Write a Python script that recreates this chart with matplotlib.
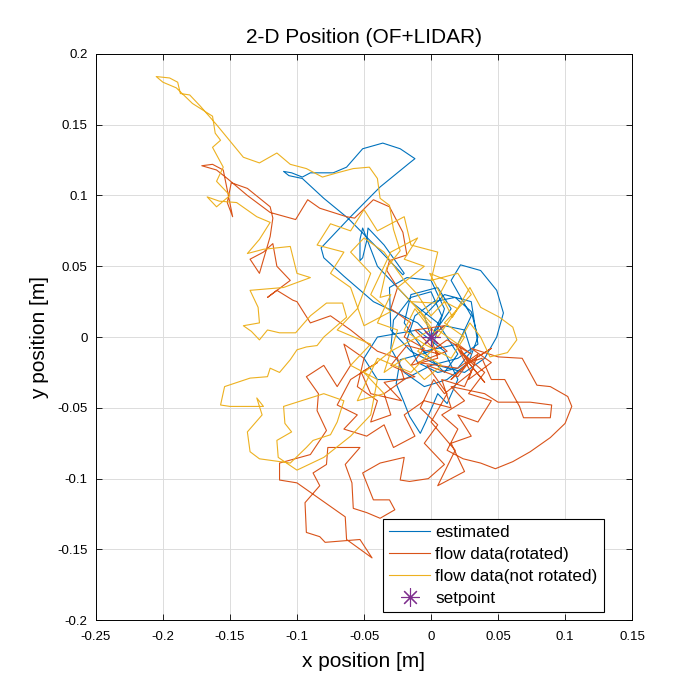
import matplotlib
matplotlib.use('Agg')
import matplotlib.pyplot as plt

# estimated trajectory (x, y) in metres
est_x = [0.000, 0.015, 0.005, -0.015, -0.020, -0.005, 0.020, 0.030, 0.015, 0.022,
         0.037, 0.049, 0.054, 0.049, 0.040, 0.025, 0.005, -0.015, -0.030, -0.031,
         -0.018, 0.000, 0.010, 0.000, -0.023, -0.026, -0.021, -0.016, -0.008, -0.004,
         0.005, 0.012, 0.020, 0.010, -0.010, -0.040, -0.050, -0.040, -0.020, 0.000,
         0.020, 0.035, 0.030, 0.010, -0.005, 0.000, -0.010, -0.043, -0.065, -0.080,
         -0.082, -0.060, -0.038, -0.016, -0.012, -0.023, -0.036, -0.051, -0.063, -0.073,
         -0.090, -0.096, -0.104, -0.110, -0.106, -0.096, -0.080, -0.062, -0.038, -0.021,
         -0.020, -0.035, -0.047, -0.048, -0.051, -0.053, -0.053, -0.051, -0.040, -0.015,
         0.005, 0.020, 0.010, -0.008, 0.000, 0.010, 0.025, 0.030, 0.020, 0.005,
         -0.010, -0.018, -0.012, 0.002, 0.018, 0.030, 0.035, 0.028, 0.012, -0.005,
         -0.020, -0.030, -0.028, -0.015, 0.000, 0.008, 0.000]
est_y = [0.000, 0.020, 0.035, 0.030, 0.010, -0.010, -0.005, 0.015, 0.040, 0.051,
         0.047, 0.033, 0.017, 0.000, -0.015, -0.025, -0.020, -0.010, 0.005, 0.035,
         0.042, 0.040, 0.020, -0.010, -0.016, -0.033, -0.044, -0.056, -0.068, -0.060,
         -0.040, -0.047, -0.030, -0.010, 0.005, 0.000, -0.015, -0.030, -0.030, -0.020,
         -0.015, -0.005, 0.025, 0.030, 0.015, 0.000, 0.010, 0.025, 0.043, 0.056,
         0.063, 0.085, 0.106, 0.123, 0.126, 0.133, 0.137, 0.133, 0.120, 0.116,
         0.116, 0.113, 0.116, 0.117, 0.114, 0.112, 0.098, 0.084, 0.061, 0.044,
         0.045, 0.065, 0.077, 0.068, 0.056, 0.054, 0.069, 0.077, 0.050, 0.025,
         0.010, -0.012, -0.025, -0.008, 0.000, 0.008, 0.005, -0.010, -0.022, -0.025,
         -0.018, -0.002, 0.015, 0.025, 0.028, 0.018, 0.000, -0.018, -0.030, -0.035,
         -0.025, -0.008, 0.012, 0.028, 0.032, 0.015, 0.000]

# flow data, rotated
rot_x = [0.000, 0.012, -0.010, 0.020, 0.035, 0.028, 0.045, 0.030, 0.050, 0.068,
         0.079, 0.089, 0.102, 0.105, 0.100, 0.089, 0.074, 0.061, 0.048, 0.037,
         0.024, 0.012, 0.020, 0.008, 0.025, 0.015, 0.040, 0.050, 0.074, 0.090,
         0.089, 0.069, 0.066, 0.055, 0.045, 0.038, 0.028, 0.018, 0.030, 0.010,
         0.002, -0.008, 0.005, -0.005, 0.010, -0.002, -0.016, -0.023, -0.020, -0.038,
         -0.051, -0.043, -0.031, -0.027, -0.038, -0.048, -0.058, -0.059, -0.064, -0.053,
         -0.077, -0.078, -0.088, -0.083, -0.094, -0.093, -0.083, -0.079, -0.053, -0.044,
         -0.063, -0.064, -0.100, -0.113, -0.113, -0.090, -0.078, -0.085, -0.084, -0.093,
         -0.080, -0.070, -0.060, -0.065, -0.050, -0.055, -0.040, -0.045, -0.030, -0.035,
         -0.020, -0.025, -0.040, -0.060, -0.075, -0.090, -0.100, -0.103, -0.115, -0.122,
         -0.105, -0.115, -0.118, -0.125, -0.135, -0.128, -0.120, -0.118, -0.120, -0.137,
         -0.149, -0.152, -0.148, -0.155, -0.163, -0.171, -0.160, -0.152, -0.137, -0.120,
         -0.101, -0.092, -0.083, -0.063, -0.057, -0.043, -0.031, -0.021, -0.018, -0.031,
         -0.033, -0.025, -0.030, -0.015, -0.020, -0.005, -0.015, 0.005, 0.000, 0.010,
         -0.012, 0.006, -0.018, -0.030, -0.012, -0.035, -0.022, -0.045, -0.052, -0.040,
         -0.060, -0.070, -0.055, -0.065, -0.048, -0.035, -0.028, -0.012, -0.020, -0.005,
         0.015, 0.008, 0.025, 0.032, 0.022, 0.040, 0.028, 0.045, 0.035, 0.020,
         0.030, 0.015, 0.025, 0.005, 0.018, 0.000, 0.012, -0.003, 0.020, 0.028,
         0.045, 0.028, 0.040, 0.028, 0.015, 0.028, 0.020, 0.030, 0.012, 0.000]
rot_y = [0.000, -0.010, -0.018, -0.022, -0.012, -0.030, -0.018, -0.008, -0.014, -0.015,
         -0.034, -0.035, -0.042, -0.049, -0.061, -0.071, -0.081, -0.088, -0.093, -0.089,
         -0.086, -0.080, -0.065, -0.055, -0.045, -0.035, -0.040, -0.046, -0.046, -0.048,
         -0.057, -0.057, -0.049, -0.030, -0.030, -0.015, -0.018, -0.005, -0.025, -0.040,
         -0.030, -0.050, -0.062, -0.075, -0.090, -0.100, -0.102, -0.101, -0.085, -0.089,
         -0.096, -0.115, -0.115, -0.122, -0.128, -0.124, -0.121, -0.103, -0.090, -0.078,
         -0.078, -0.090, -0.096, -0.105, -0.117, -0.138, -0.141, -0.145, -0.143, -0.156,
         -0.143, -0.127, -0.103, -0.101, -0.089, -0.083, -0.066, -0.052, -0.040, -0.028,
         -0.020, -0.035, -0.020, -0.005, -0.015, -0.035, -0.045, -0.060, -0.055, -0.040,
         -0.030, -0.015, -0.010, 0.005, 0.015, 0.010, 0.025, 0.026, 0.033, 0.028,
         0.040, 0.050, 0.066, 0.060, 0.055, 0.045, 0.071, 0.084, 0.092, 0.105,
         0.109, 0.095, 0.085, 0.118, 0.122, 0.121, 0.118, 0.112, 0.100, 0.088,
         0.083, 0.097, 0.091, 0.085, 0.084, 0.097, 0.092, 0.074, 0.058, 0.054,
         0.047, 0.035, 0.020, 0.010, 0.000, -0.008, -0.020, -0.015, 0.000, 0.008,
         0.005, -0.012, -0.006, -0.020, -0.028, -0.032, -0.045, -0.040, -0.025, -0.018,
         -0.030, -0.048, -0.055, -0.065, -0.070, -0.062, -0.078, -0.070, -0.055, -0.045,
         -0.050, -0.030, -0.035, -0.020, -0.010, -0.025, -0.040, -0.045, -0.060, -0.055,
         -0.070, -0.075, -0.095, -0.105, -0.080, -0.060, -0.040, -0.020, -0.028, -0.018,
         -0.008, -0.018, -0.032, -0.018, -0.030, -0.018, -0.005, -0.012, -0.002, -0.010]

# flow data, not rotated
raw_x = [0.000, -0.015, 0.003, 0.012, -0.001, 0.016, 0.029, 0.037, 0.051, 0.061,
         0.064, 0.057, 0.044, 0.037, 0.029, 0.020, 0.005, -0.010, 0.008, -0.005,
         -0.020, -0.035, -0.025, -0.040, -0.030, -0.038, -0.033, -0.023, -0.028, -0.031,
         -0.038, -0.040, -0.046, -0.058, -0.070, -0.081, -0.093, -0.105, -0.115, -0.128,
         -0.140, -0.160, -0.172, -0.180, -0.187, -0.189, -0.195, -0.205, -0.200, -0.190,
         -0.178, -0.163, -0.161, -0.157, -0.163, -0.155, -0.160, -0.150, -0.160, -0.167,
         -0.158, -0.145, -0.130, -0.120, -0.128, -0.137, -0.125, -0.105, -0.100, -0.090,
         -0.110, -0.135, -0.129, -0.128, -0.140, -0.134, -0.128, -0.122, -0.113, -0.101,
         -0.090, -0.078, -0.066, -0.063, -0.080, -0.085, -0.093, -0.100, -0.105, -0.113,
         -0.120, -0.122, -0.135, -0.154, -0.157, -0.150, -0.125, -0.130, -0.126, -0.137,
         -0.135, -0.128, -0.105, -0.093, -0.088, -0.075, -0.070, -0.065, -0.080, -0.110,
         -0.109, -0.104, -0.115, -0.114, -0.100, -0.080, -0.060, -0.045, -0.040, -0.060,
         -0.045, -0.070, -0.055, -0.045, -0.060, -0.050, -0.035, -0.020, -0.010, 0.000,
         0.010, 0.020, 0.005, -0.010, -0.025, -0.005, -0.020, -0.010, -0.030, -0.045,
         -0.030, -0.050, -0.060, -0.075, -0.065, -0.085, -0.075, -0.060, -0.050, -0.040,
         -0.020, -0.015, 0.005, 0.000, 0.020, 0.030, 0.010, 0.025, 0.015, -0.005,
         -0.020, -0.012, 0.000, -0.030, -0.050, -0.035, -0.055, -0.040, -0.015, 0.000]
raw_y = [0.010, 0.025, 0.024, 0.040, 0.045, 0.014, 0.035, 0.021, 0.014, 0.007,
         -0.002, -0.011, -0.014, 0.000, 0.010, -0.005, 0.005, -0.010, -0.020, -0.030,
         -0.015, -0.025, 0.005, 0.010, 0.030, 0.028, 0.049, 0.061, 0.076, 0.093,
         0.098, 0.112, 0.120, 0.119, 0.116, 0.113, 0.119, 0.122, 0.130, 0.123,
         0.127, 0.150, 0.163, 0.171, 0.172, 0.180, 0.183, 0.184, 0.180, 0.176,
         0.165, 0.156, 0.144, 0.139, 0.134, 0.120, 0.110, 0.100, 0.092, 0.099,
         0.096, 0.095, 0.085, 0.081, 0.069, 0.059, 0.062, 0.064, 0.045, 0.042,
         0.035, 0.033, 0.021, 0.010, 0.008, 0.004, -0.002, 0.005, 0.003, 0.003,
         0.015, 0.024, 0.024, 0.014, 0.000, -0.006, -0.007, -0.009, -0.016, -0.025,
         -0.022, -0.028, -0.029, -0.035, -0.048, -0.049, -0.049, -0.043, -0.055, -0.067,
         -0.081, -0.086, -0.089, -0.078, -0.073, -0.069, -0.060, -0.045, -0.040, -0.049,
         -0.061, -0.067, -0.073, -0.085, -0.094, -0.085, -0.070, -0.055, -0.030, -0.020,
         -0.005, 0.005, 0.020, 0.045, 0.060, 0.070, 0.060, 0.040, 0.030, 0.015,
         0.025, 0.020, 0.000, 0.020, 0.035, 0.050, 0.055, 0.070, 0.060, 0.030,
         0.018, 0.008, 0.035, 0.045, 0.060, 0.065, 0.080, 0.075, 0.090, 0.075,
         0.085, 0.065, 0.060, 0.040, 0.045, 0.030, 0.010, 0.000, -0.015, -0.005,
         0.005, 0.020, 0.005, -0.010, -0.025, -0.040, -0.045, -0.015, -0.025, -0.010]

setpoint_x = [0.0]
setpoint_y = [0.0]

xticks = [-0.25, -0.2, -0.15, -0.1, -0.05, 0, 0.05, 0.1, 0.15]
yticks = [-0.2, -0.15, -0.1, -0.05, 0, 0.05, 0.1, 0.15, 0.2]

plt.rcParams['font.family'] = ['Liberation Sans', 'DejaVu Sans']

fig = plt.figure(figsize=(7, 7), dpi=100)
ax = fig.add_axes([0.137, 0.114, 0.766, 0.809])

ax.plot(est_x, est_y, color='#0072BD', lw=0.8, label='estimated')
ax.plot(rot_x, rot_y, color='#D95319', lw=0.8, label='flow data(rotated)')
ax.plot(raw_x, raw_y, color='#EDB120', lw=0.8, label='flow data(not rotated)')
ax.plot(setpoint_x, setpoint_y, marker=(8, 2, 0), color='#7E2F8E', ms=13, mew=0.8,
        linestyle='none', label='setpoint')

ax.set_xlim(-0.25, 0.15)
ax.set_ylim(-0.2, 0.2)
ax.set_xticks(xticks)
ax.set_yticks(yticks)
ax.set_xticklabels([('%g' % t) for t in xticks])
ax.set_yticklabels([('%g' % t) for t in yticks])
ax.tick_params(direction='in', top=True, right=True, labelsize=9.5, length=4, width=0.6)
ax.tick_params(axis='x', pad=8)
ax.tick_params(axis='y', pad=6)
ax.grid(True, color='#dcdcdc', lw=0.7)
ax.set_axisbelow(True)
for sp in ax.spines.values():
    sp.set_linewidth(0.7)

ax.set_title('2-D Position (OF+LIDAR)', fontsize=15, pad=8)
ax.set_xlabel('x position [m]', fontsize=15, labelpad=6)
ax.set_ylabel('y position [m]', fontsize=15, labelpad=6)

leg = ax.legend(loc='lower right', bbox_to_anchor=(0.963, 0.0), fontsize=12.3,
                fancybox=False, edgecolor='black', framealpha=1,
                handlelength=2.4, borderpad=0.35, labelspacing=0.4, handletextpad=0.3)
leg.get_frame().set_linewidth(0.8)

plt.savefig('out.png')
plt.close()
